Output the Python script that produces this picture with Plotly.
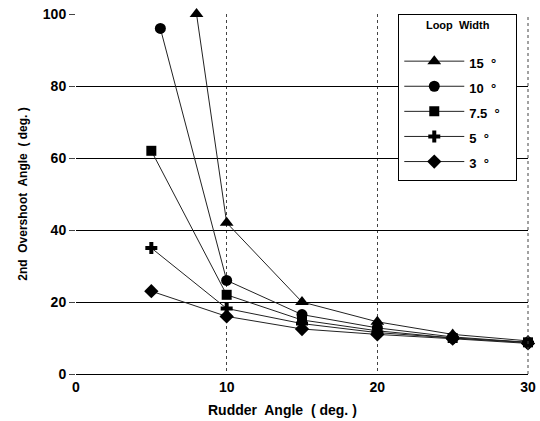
import plotly.graph_objects as go

loop_widths = ["15  °", "10  °", "7.5  °", "5  °", "3  °"]
x_15 = [8, 10, 15, 20, 25, 30]
y_15 = [100, 42, 20, 14.5, 11, 9.2]
x_10 = [5.6, 10, 15, 20, 25, 30]
y_10 = [96, 26, 16.5, 12.8, 10.3, 8.8]
x_75 = [5, 10, 15, 20, 25, 30]
y_75 = [62, 22, 15, 12, 10, 8.8]
x_5 = [5, 10, 15, 20, 25, 30]
y_5 = [35, 18.2, 14, 11.5, 10, 8.7]
x_3 = [5, 10, 15, 20, 25, 30]
y_3 = [23, 16, 12.5, 11, 9.8, 8.5]

series = [
    (x_15, y_15, "triangle-up", 12),
    (x_10, y_10, "circle", 11),
    (x_75, y_75, "square", 10),
    (x_5, y_5, "cross", 10),
    (x_3, y_3, "diamond", 11),
]

fig = go.Figure()
for name, (xs, ys, sym, sz) in zip(loop_widths, series):
    fig.add_trace(go.Scatter(
        x=xs, y=ys, mode="lines+markers",
        name="<span style='font-size:13px'>" + name + "&nbsp;&nbsp;&nbsp;</span>",
        line=dict(color="#222222", width=1),
        marker=dict(symbol=sym, size=sz, color="black"),
        cliponaxis=False,
    ))

font_family = "Liberation Sans, Arial, sans-serif"
fig.update_layout(
    width=540, height=421,
    margin=dict(l=76, r=12, t=14, b=47, autoexpand=False),
    paper_bgcolor="white", plot_bgcolor="white",
    font=dict(family=font_family, color="black"),
    xaxis=dict(
        range=[0, 30], tickvals=[0, 10, 20, 30], automargin=False,
        showgrid=True, gridcolor="#444444", griddash="dot", gridwidth=1,
        showline=True, linecolor="black", linewidth=1,
        zeroline=False, ticks="",
        tickfont=dict(size=14, family=font_family, weight="bold"),
    ),
    yaxis=dict(
        range=[0, 100], tickvals=[0, 20, 40, 60, 80, 100], automargin=False,
        showgrid=True, gridcolor="black", gridwidth=1,
        showline=False, zeroline=False,
        ticks="outside", ticklen=6, tickcolor="#444444",
        tickfont=dict(size=14, family=font_family, weight="bold"),
        title=dict(text="<b>2nd  Overshoot  Angle  ( deg. )</b>", font=dict(size=12), standoff=12),
    ),
    legend=dict(
        x=0.713, y=1.0, xanchor="left", yanchor="top",
        bgcolor="white", bordercolor="black", borderwidth=1,
        title=dict(text="<b>Loop  Width</b><br> ", font=dict(size=11), side="top center"),
        font=dict(size=17, weight="bold"),
        itemwidth=60,
    ),
    annotations=[dict(
        text="<b>Rudder  Angle  ( deg. )</b>", xref="paper", yref="paper",
        x=0.456, y=0, yshift=-36, xanchor="center", yanchor="middle",
        showarrow=False, font=dict(size=14),
    )],
    shapes=[dict(type="line", xref="paper", yref="paper", x0=1, x1=1, y0=0, y1=1,
                 line=dict(color="#444444", width=1, dash="dot"))],
    showlegend=True,
)

fig.write_html("out.html", config={"displayModeBar": False},
               post_script="document.body.style.margin='0';")
